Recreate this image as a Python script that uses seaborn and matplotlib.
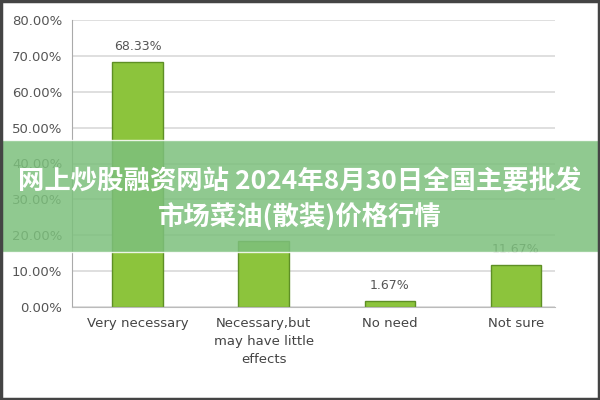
import seaborn as sns
import matplotlib.pyplot as plt
import pandas as pd
from matplotlib.patches import Rectangle

categories = ["Very necessary", "Necessary,but\nmay have little\neffects", "No need", "Not sure"]
values = [68.33, 18.33, 1.67, 11.67]
labels = ["68.33%", "", "1.67%", "11.67%"]  # 18.33% is covered by the banner
yticks = [0, 10, 20, 30, 40, 50, 60, 70, 80]
banner = "网上炒股融资网站 2024年8月30日全国主要批发\n市场菜油(散装)价格行情"

df = pd.DataFrame({"category": categories, "value": values})

sns.set_style("white")
plt.rcParams['font.family'] = ['Noto Sans CJK SC', 'DejaVu Sans']

fig = plt.figure(figsize=(6, 4), dpi=100)
ax = fig.add_axes([0.12, 0.2325, 0.805, 0.7175])

sns.barplot(x="category", y="value", data=df, color="#8cc43c", width=0.4,
            edgecolor="#5e8f25", linewidth=1, saturation=1, ax=ax)

for i, (v, t) in enumerate(zip(values, labels)):
    ax.text(i, v + 2.5, t, ha="center", va="bottom", fontsize=9, color="#555555",
            family="DejaVu Sans")

ax.set_ylim(0, 80)
ax.set_xlim(-0.52, 3.31)
ax.set_yticks(yticks)
ax.set_yticklabels([f"{y:.2f}%" for y in yticks], fontsize=9.5, color="#555555",
                   family="DejaVu Sans")
ax.set_xticklabels(categories, fontsize=9.5, color="#444444", family="DejaVu Sans",
                   linespacing=1.5)
ax.set_xlabel("")
ax.set_ylabel("")
ax.yaxis.grid(True, color="#d9d9d9", linewidth=1.2)
ax.set_axisbelow(True)
for s in ["top", "right"]:
    ax.spines[s].set_visible(False)
ax.spines["left"].set_color("#aaaaaa")
ax.spines["bottom"].set_color("#bbbbbb")
ax.tick_params(axis="both", length=0, pad=7)

# green banner across the middle
fig.patches.append(Rectangle((0, 0.37), 1, 0.28, transform=fig.transFigure,
                             facecolor="#7dc07d", alpha=0.85, zorder=5))
fig.text(0.5, 0.5, banner, ha="center", va="center", color="white",
         fontsize=19, fontweight="bold", linespacing=1.4, zorder=6)

# outer frame
fig.patches.append(Rectangle((0.002, 0.003), 0.996, 0.994, transform=fig.transFigure,
                             fill=False, edgecolor="#444444", linewidth=2.5, zorder=7))

fig.savefig("out.png", dpi=100)
